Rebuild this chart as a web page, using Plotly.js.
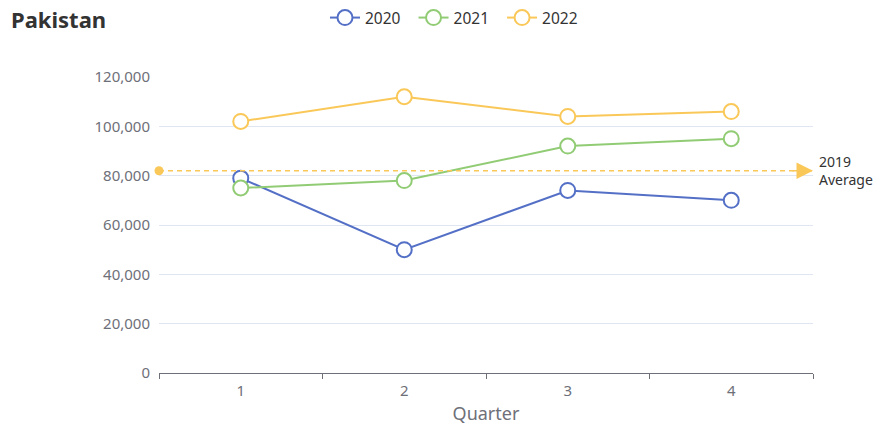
<!DOCTYPE html>
<html>
<head>
<meta charset="utf-8">
<script src="https://cdn.plot.ly/plotly-3.0.1.min.js"></script>
<style>
  html, body { margin: 0; padding: 0; background: #fff; }
  #chart { width: 885px; height: 425px; }
</style>
</head>
<body>
<div id="chart"></div>
<script>
const quarters = ["1", "2", "3", "4"];
const seriesNames = ["2020", "2021", "2022"];
const values2020 = [79000, 50000, 74000, 70000];
const values2021 = [75000, 78000, 92000, 95000];
const values2022 = [102000, 112000, 104000, 106000];
const average2019 = 82000;
const averageLabel = "2019<br>Average";
const yTicks = [0, 20000, 40000, 60000, 80000, 100000, 120000];

const colors = ["#5470c6", "#91cc75", "#fac858"];
const fontFamily = "'Noto Sans', 'Open Sans', sans-serif";
const allSeries = [values2020, values2021, values2022];

const traces = allSeries.map((vals, i) => ({
  type: "scatter",
  mode: "lines+markers",
  name: seriesNames[i] + "&nbsp;&nbsp;",
  x: quarters,
  y: vals,
  line: { color: colors[i], width: 2 },
  marker: { symbol: "circle", size: 15, color: "#ffffff", line: { color: colors[i], width: 2 } },
  cliponaxis: false,
  hoverinfo: "skip"
}));

// average mark line (on an overlaid linear x axis spanning the category bands)
traces.unshift({
  type: "scatter",
  mode: "lines+markers",
  x: [-0.5, 3.5],
  y: [average2019, average2019],
  xaxis: "x2",
  showlegend: false,
  line: { color: colors[2], width: 1.3, dash: "5px,4px" },
  marker: { symbol: ["circle", "line-ew"], size: [9, 1], color: colors[2], opacity: [1, 0], line: { width: 0 } },
  cliponaxis: false,
  hoverinfo: "skip"
});

const layout = {
  width: 885,
  height: 425,
  margin: { l: 159, r: 72, t: 77, b: 52 },
  paper_bgcolor: "#ffffff",
  plot_bgcolor: "#ffffff",
  font: { family: fontFamily, color: "#6e7079", size: 15 },
  title: {
    text: "<b>Pakistan</b>",
    font: { family: fontFamily, size: 22, color: "#333333" },
    x: 11 / 885, xanchor: "left", xref: "container",
    y: 1 - 20 / 425, yanchor: "middle", yref: "container"
  },
  showlegend: true,
  legend: {
    orientation: "h",
    x: 325 / 885, xanchor: "left", xref: "container",
    y: 1 - 18 / 425, yanchor: "middle", yref: "container",
    font: { family: fontFamily, size: 15.5, color: "#333333" },
    itemwidth: 30,
    tracegroupgap: 0
  },
  xaxis: {
    type: "category",
    range: [-0.5, 3.5],
    tickson: "boundaries",
    ticks: "outside",
    ticklen: 5,
    tickcolor: "#6e7079",
    showline: true,
    linecolor: "#6e7079",
    linewidth: 1,
    showgrid: false,
    zeroline: false,
    ticklabelstandoff: 4,
    tickfont: { family: fontFamily, size: 15, color: "#6e7079" },
    title: { text: "Quarter", font: { family: fontFamily, size: 18, color: "#6e7079" }, standoff: 9 },
    fixedrange: true
  },
  xaxis2: {
    type: "linear",
    overlaying: "x",
    range: [-0.5, 3.5],
    visible: false,
    fixedrange: true
  },
  yaxis: {
    range: [0, 120000],
    tickvals: yTicks,
    tickformat: ",d",
    showgrid: true,
    gridcolor: "#e0e6f1",
    gridwidth: 1,
    zeroline: false,
    showline: false,
    ticks: "",
    ticklabelstandoff: 8,
    tickfont: { family: fontFamily, size: 15, color: "#6e7079" },
    fixedrange: true
  },
  annotations: [
    {
      xref: "x2", yref: "y",
      x: 3.5, y: average2019,
      axref: "pixel", ayref: "pixel",
      ax: -22, ay: 0,
      text: "",
      showarrow: true,
      arrowhead: 2,
      arrowsize: 2.2,
      arrowwidth: 1.5,
      arrowcolor: colors[2],
      standoff: 0
    },
    {
      xref: "paper", yref: "y",
      x: 1, y: average2019,
      xanchor: "left", yanchor: "middle",
      xshift: 4,
      text: averageLabel,
      showarrow: false,
      align: "left",
      font: { family: fontFamily, size: 14, color: "#333333" }
    }
  ],
  hovermode: false
};

Plotly.newPlot("chart", traces, layout, { displayModeBar: false, staticPlot: true });
</script>
</body>
</html>
